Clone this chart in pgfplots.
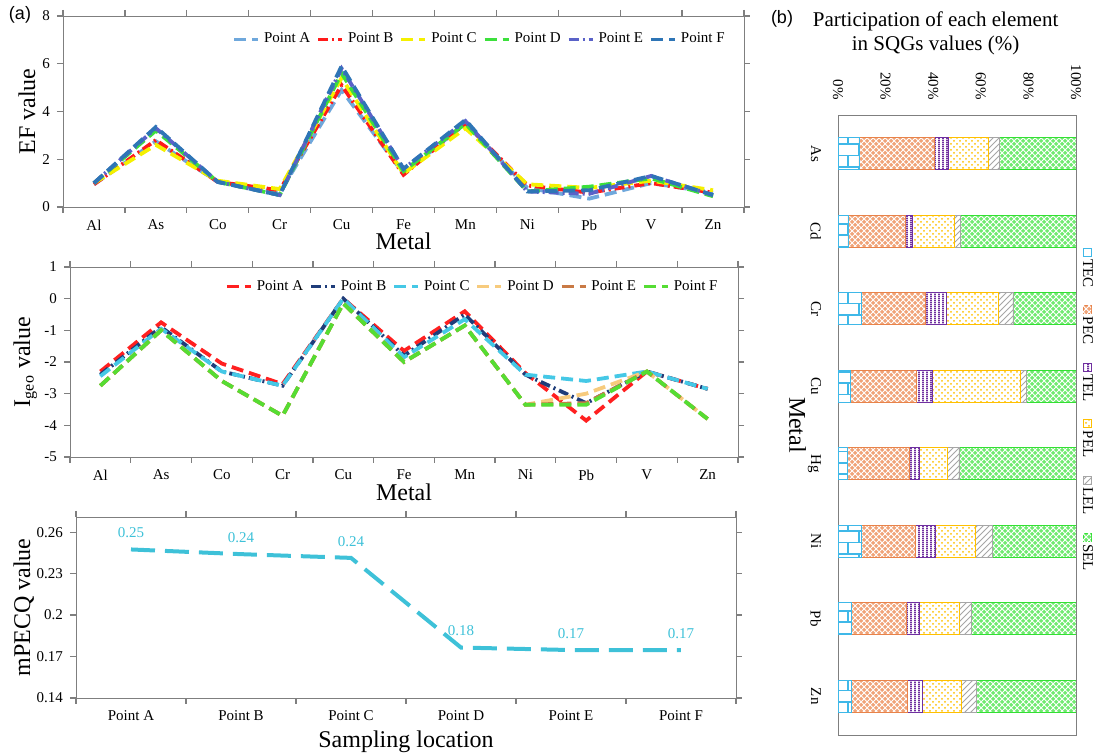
\documentclass[border=0pt]{standalone}
\usepackage{fontspec}
\setmainfont{Liberation Serif}
\newfontfamily\arialfont{Liberation Sans}
\usepackage{pgfplots}
\pgfplotsset{compat=1.18}
\usetikzlibrary{patterns}

\pgfdeclarepatternformonly{thickvlines}{\pgfpointorigin}{\pgfqpoint{2.2pt}{1pt}}{\pgfqpoint{2.2pt}{1pt}}%
{\pgfpathrectangle{\pgfpointorigin}{\pgfqpoint{1.1pt}{1pt}}\pgfusepath{fill}}

\definecolor{efA}{HTML}{6FA8DC}
\definecolor{efB}{HTML}{FF1A1A}
\definecolor{efC}{HTML}{F5F000}
\definecolor{efD}{HTML}{3CE03C}
\definecolor{efE}{HTML}{5A62C8}
\definecolor{efF}{HTML}{2E75B6}
\definecolor{igA}{HTML}{FF2020}
\definecolor{igB}{HTML}{1F3D7A}
\definecolor{igC}{HTML}{45C8E6}
\definecolor{igD}{HTML}{F7CB7D}
\definecolor{igE}{HTML}{C97A45}
\definecolor{igF}{HTML}{55DD33}
\definecolor{mpq}{HTML}{3EC1D8}
\definecolor{tec}{HTML}{3FB8E8}
\definecolor{pec}{HTML}{E8834A}
\definecolor{pecf}{HTML}{F0A378}
\definecolor{tel}{HTML}{7030A0}
\definecolor{pel}{HTML}{FFC000}
\definecolor{lel}{HTML}{A6A6A6}
\definecolor{sel}{HTML}{33E033}
\definecolor{self}{HTML}{70EA70}
\definecolor{axc}{HTML}{7F7F7F}

\pgfplotsset{
  panel/.style={
    scale only axis, anchor=south west,
    axis line style={draw=axc},
    tick style={draw=axc, line width=0.6pt},
    tick align=outside, major tick length=3pt,
    tick label style={font=\fontsize{7.5}{8}\selectfont},
    label style={font=\fontsize{12}{13}\selectfont},
    legend style={draw=none, fill=none, font=\fontsize{7.5}{8}\selectfont,
      /tikz/every even column/.append style={column sep=1pt}},
    legend columns=6,
    legend image code/.code={\draw[##1] (0pt,0pt) -- (12pt,0pt);},
  },
  ln/.style={line width=1.9pt, dash pattern=on 6pt off 3pt},
  lnd/.style={line width=1.9pt, dash pattern=on 5pt off 2pt on 1pt off 2pt},
  sTEC/.style={draw=tec, pattern=bricks, pattern color=tec},
  sPEC/.style={draw=pec, fill=pecf, postaction={pattern=crosshatch, pattern color=white}},
  sTEL/.style={draw=tel, pattern=thickvlines, pattern color=tel},
  sPEL/.style={draw=pel, pattern=crosshatch dots, pattern color=pel},
  sLEL/.style={draw=lel, pattern=north east lines, pattern color=lel},
  sSEL/.style={draw=sel, fill=self, postaction={pattern=crosshatch, pattern color=white}},
}
\newcommand{\lgent}[2]{\raisebox{\depth}{\rotatebox{-90}{\tikz[baseline=0pt]\draw[/pgfplots/#1, line width=0.5pt] (0pt,0pt) rectangle (4pt,4pt);\,#2}}}

\begin{document}
\begin{tikzpicture}[x=1pt,y=1pt]
\useasboundingbox (0pt,0pt) rectangle (550pt,376.5pt);

% ---------------- Panel (a) EF ----------------
\begin{axis}[panel, at={(31.5pt,273pt)}, width=340.5pt, height=95.5pt,
  xmin=-0.5, xmax=10.5, ymin=0, ymax=8,
  ytick={0,2,4,6,8}, yticklabels={0,2,4,6,8},
  xtick={-0.5,0.5,...,10.5}, xticklabel=\empty,
  extra x ticks={0,1,...,10},
  extra x tick labels={Al,As,Co,Cr,Cu,Fe,Mn,Ni,Pb,V,Zn},
  extra x tick style={major tick length=0pt, tick label style={yshift=-3pt}},
  ylabel={EF value}, xlabel={Metal},
  ylabel style={at={(axis description cs:-0.053,0.5)}, anchor=center, rotate=0},
  xlabel style={at={(axis description cs:0.5,-0.178)}, anchor=center},
  legend style={at={(axis description cs:0.987,0.955)}, anchor=north east},
]
\addplot[ln, efA] coordinates {(0,0.95)(1,2.75)(2,1.05)(3,0.6)(4,4.9)(5,1.4)(6,3.5)(7,0.8)(8,0.35)(9,1.0)(10,0.6)};
\addplot[lnd, efB] coordinates {(0,0.95)(1,2.8)(2,1.05)(3,0.7)(4,5.1)(5,1.35)(6,3.5)(7,0.9)(8,0.6)(9,1.0)(10,0.6)};
\addplot[ln, efC] coordinates {(0,1.0)(1,2.6)(2,1.1)(3,0.75)(4,5.4)(5,1.4)(6,3.3)(7,0.95)(8,0.8)(9,1.1)(10,0.7)};
\addplot[ln, efD] coordinates {(0,1.0)(1,3.2)(2,1.05)(3,0.5)(4,5.6)(5,1.5)(6,3.5)(7,0.65)(8,0.85)(9,1.2)(10,0.45)};
\addplot[lnd, efE] coordinates {(0,1.0)(1,3.3)(2,1.05)(3,0.5)(4,5.8)(5,1.6)(6,3.6)(7,0.65)(8,0.55)(9,1.3)(10,0.5)};
\addplot[ln, efF] coordinates {(0,1.0)(1,3.35)(2,1.05)(3,0.5)(4,5.9)(5,1.6)(6,3.65)(7,0.65)(8,0.7)(9,1.3)(10,0.5)};
\legend{Point A,Point B,Point C,Point D,Point E,Point F}
\end{axis}

% ---------------- Panel (a) Igeo ----------------
\begin{axis}[panel, at={(35pt,148pt)}, width=334pt, height=95pt,
  xmin=-0.5, xmax=10.5, ymin=-5, ymax=1,
  ytick={-5,-4,...,1}, yticklabels={-5,-4,-3,-2,-1,0,1},
  xtick={-0.5,0.5,...,10.5}, xticklabel=\empty,
  extra x ticks={0,1,...,10},
  extra x tick labels={Al,As,Co,Cr,Cu,Fe,Mn,Ni,Pb,V,Zn},
  extra x tick style={major tick length=0pt, tick label style={yshift=-3pt}},
  ylabel={I\textsubscript{geo} value}, xlabel={Metal},
  ylabel style={at={(axis description cs:-0.067,0.5)}, anchor=center, rotate=0},
  xlabel style={at={(axis description cs:0.5,-0.184)}, anchor=center},
  legend style={at={(axis description cs:0.985,0.975)}, anchor=north east},
]
\addplot[ln, igA] coordinates {(0,-2.3)(1,-0.75)(2,-2.05)(3,-2.7)(4,0.0)(5,-1.65)(6,-0.4)(7,-2.35)(8,-3.85)(9,-2.3)(10,-2.85)};
\addplot[lnd, igB] coordinates {(0,-2.4)(1,-0.9)(2,-2.3)(3,-2.75)(4,0.0)(5,-1.8)(6,-0.5)(7,-2.4)(8,-3.3)(9,-2.3)(10,-2.85)};
\addplot[ln, igC] coordinates {(0,-2.45)(1,-0.95)(2,-2.3)(3,-2.75)(4,0.0)(5,-1.85)(6,-0.65)(7,-2.4)(8,-2.6)(9,-2.3)(10,-2.85)};
\addplot[ln, igD] coordinates {(0,-2.75)(1,-1.0)(2,-2.6)(3,-3.7)(4,-0.15)(5,-2.0)(6,-0.85)(7,-3.35)(8,-3.0)(9,-2.3)(10,-3.8)};
\addplot[ln, igE] coordinates {(0,-2.75)(1,-1.0)(2,-2.6)(3,-3.7)(4,-0.15)(5,-2.0)(6,-0.85)(7,-3.35)(8,-3.3)(9,-2.3)(10,-3.8)};
\addplot[ln, igF] coordinates {(0,-2.75)(1,-1.0)(2,-2.6)(3,-3.7)(4,-0.15)(5,-2.0)(6,-0.85)(7,-3.35)(8,-3.35)(9,-2.3)(10,-3.8)};
\legend{Point A,Point B,Point C,Point D,Point E,Point F}
\end{axis}

% ---------------- Panel (a) mPECQ ----------------
\begin{axis}[panel, at={(38pt,27.5pt)}, width=330pt, height=90.5pt,
  xmin=-0.5, xmax=5.5, ymin=0.14, ymax=0.271,
  ytick={0.14,0.17,0.2,0.23,0.26}, yticklabels={0.14,0.17,0.2,0.23,0.26},
  xtick={-0.5,0.5,...,5.5}, xticklabel=\empty,
  extra x ticks={0,1,...,5},
  extra x tick labels={Point A,Point B,Point C,Point D,Point E,Point F},
  extra x tick style={major tick length=0pt, tick label style={yshift=-3pt}},
  ylabel={mPECQ value}, xlabel={Sampling location},
  ylabel style={at={(axis description cs:-0.079,0.5)}, anchor=center, rotate=0},
  xlabel style={at={(axis description cs:0.5,-0.243)}, anchor=center},
]
\addplot[line width=2pt, mpq, dash pattern=on 12pt off 5pt,
  nodes near coords, point meta=explicit symbolic,
  nodes near coords style={font=\fontsize{7.5}{8}\selectfont, text=mpq, anchor=south, yshift=1.5pt}]
  coordinates {(0,0.2475)[0.25] (1,0.2441)[0.24] (2,0.2414)[0.24] (3,0.1765)[0.18] (4,0.1747)[0.17] (5,0.1747)[0.17]};
\end{axis}

% ---------------- Panel (b) ----------------
\begin{axis}[scale only axis, anchor=south west, at={(419pt,9pt)}, width=119pt, height=310pt,
  xbar stacked, bar width=16pt,
  xmin=0, xmax=100, ymin=-0.5, ymax=7.5, y dir=reverse,
  axis line style={draw=axc},
  xtick={0,20,...,100}, xticklabels={0\%,20\%,40\%,60\%,80\%,100\%},
  xticklabel pos=upper, major tick length=0pt,
  xticklabel style={rotate=-90, anchor=east, font=\fontsize{7.5}{8}\selectfont},
  xticklabel shift=4pt,
  ytick={0,...,7}, yticklabels={As,Cd,Cr,Cu,Hg,Ni,Pb,Zn},
  yticklabel style={rotate=-90, anchor=north, font=\fontsize{7.5}{8}\selectfont},
  yticklabel shift=5pt,
  ylabel={Metal}, ylabel style={at={(axis description cs:-0.17,0.5)}, anchor=center, rotate=180, font=\fontsize{12}{13}\selectfont},
  title={Participation of each element\\in SQGs values (\%)},
  title style={align=center, font=\fontsize{10.5}{12}\selectfont, at={(axis description cs:0.41,1.0)}, anchor=south, yshift=20.5pt},
  legend columns=1,
  legend image code/.code={},
  legend style={draw=none, fill=none, font=\fontsize{7.5}{8}\selectfont,
    at={(axis description cs:1.05,0.523)}, anchor=center, row sep=3.5pt,
    inner sep=0pt, /tikz/every even column/.append style={column sep=0pt}},
]
\addplot[sTEC] coordinates {(8.8,0)(4.2,1)(9.8,2)(5.3,3)(3.9,4)(9.8,5)(5.8,6)(5.8,7)};
\addlegendentry{\lgent{sTEC}{TEC}}
\addplot[sPEC] coordinates {(31.8,0)(24.3,1)(26.9,2)(27.6,3)(25.9,4)(22.7,5)(23.0,6)(23.4,7)};
\addlegendentry{\lgent{sPEC}{PEC}}
\addplot[sTEL] coordinates {(5.9,0)(2.7,1)(8.8,2)(6.6,3)(4.5,4)(8.4,5)(5.6,6)(6.3,7)};
\addlegendentry{\lgent{sTEL}{TEL}}
\addplot[sPEL] coordinates {(16.5,0)(17.5,1)(22.0,2)(37.3,3)(11.6,4)(16.8,5)(16.4,6)(16.4,7)};
\addlegendentry{\lgent{sPEL}{PEL}}
\addplot[sLEL] coordinates {(4.9,0)(2.8,1)(6.0,2)(2.4,3)(4.9,4)(7.2,5)(5.2,6)(6.3,7)};
\addlegendentry{\lgent{sLEL}{LEL}}
\addplot[sSEL] coordinates {(32.1,0)(48.5,1)(26.5,2)(20.8,3)(49.2,4)(35.1,5)(44.0,6)(41.8,7)};
\addlegendentry{\lgent{sSEL}{SEL}}
\end{axis}

\node[font=\arialfont\fontsize{9}{10}\selectfont] at (10pt,369pt) {(a)};
\node[font=\arialfont\fontsize{9}{10}\selectfont] at (391pt,367pt) {(b)};
\end{tikzpicture}
\end{document}
